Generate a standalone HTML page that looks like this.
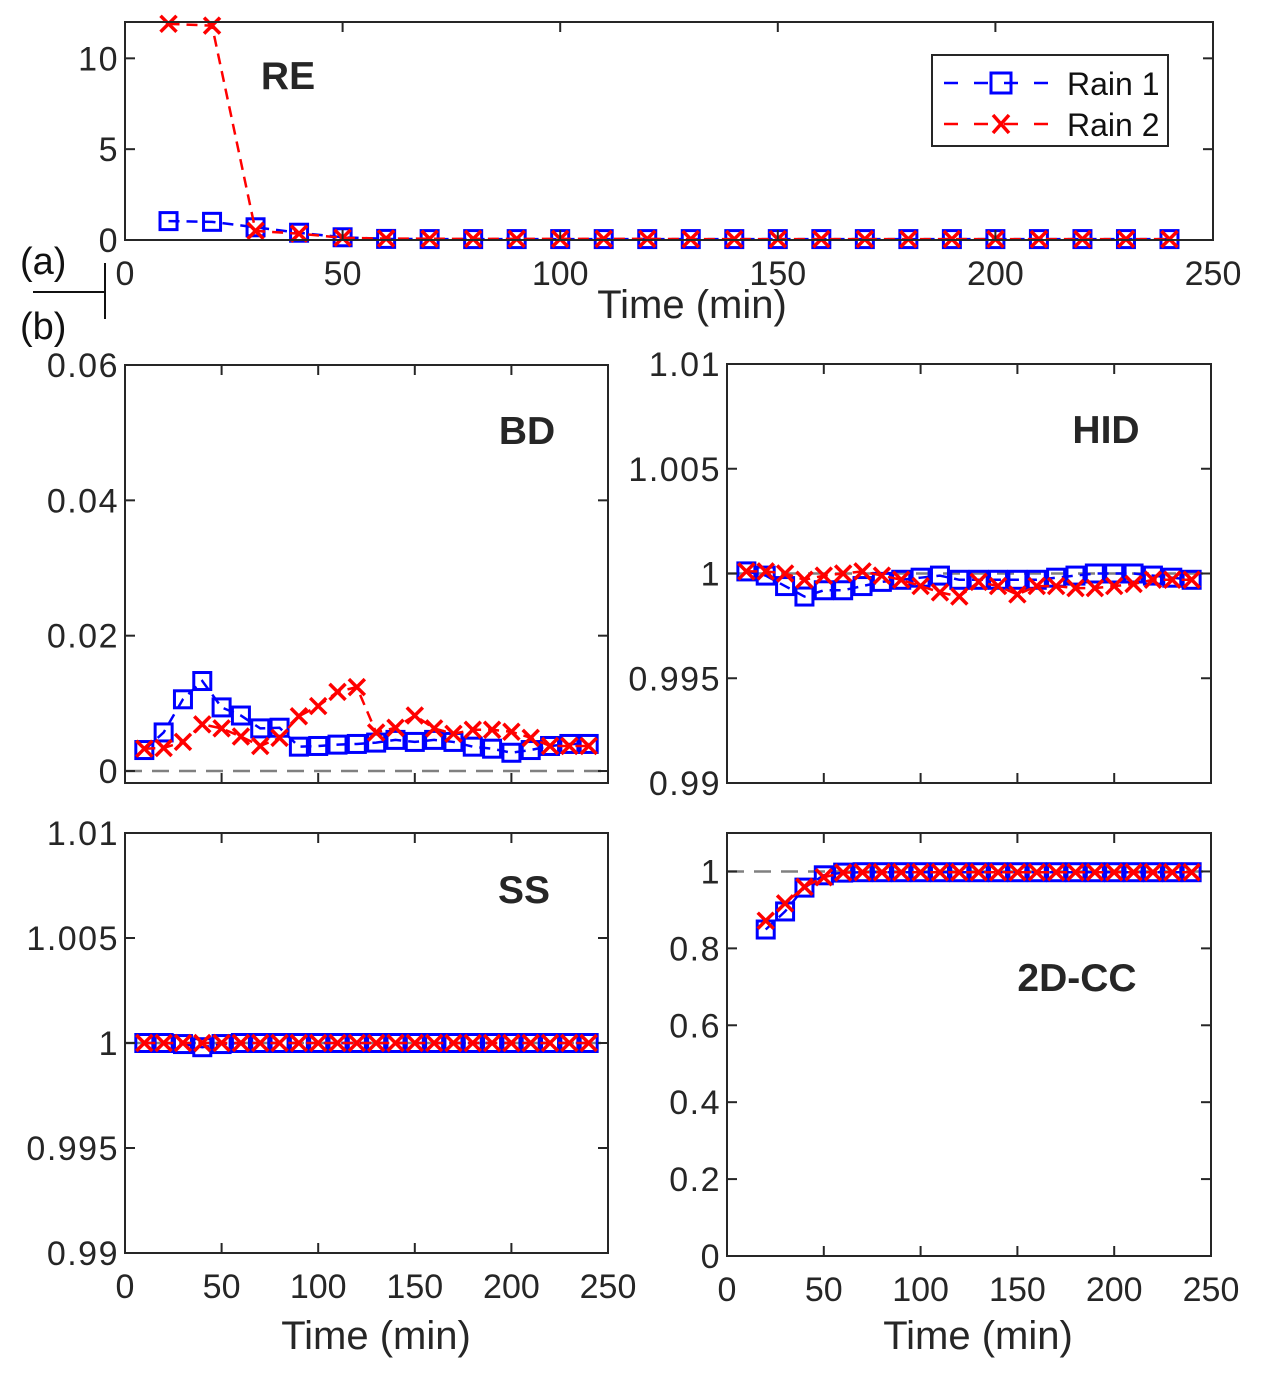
<!DOCTYPE html>
<html><head><meta charset="utf-8"><style>
body{margin:0;background:#fff;}
svg{display:block;font-family:"Liberation Sans",Arial,sans-serif;}
</style></head><body>
<svg id="fig" width="1274" height="1376" viewBox="0 0 1274 1376" xmlns="http://www.w3.org/2000/svg"></svg>
<script>
// ---- data ----
const timesA = [10,20,30,40,50,60,70,80,90,100,110,120,130,140,150,160,170,180,190,200,210,220,230,240];
const timesCC = [20,30,40,50,60,70,80,90,100,110,120,130,140,150,160,170,180,190,200,210,220,230,240];
const reRain1 = [1.04,1.0,0.7,0.4,0.15,0.06,0.05,0.05,0.05,0.05,0.05,0.05,0.05,0.05,0.05,0.05,0.05,0.05,0.05,0.05,0.05,0.05,0.05,0.05];
const reRain2 = [11.9,11.8,0.5,0.35,0.12,0.08,0.07,0.06,0.06,0.06,0.06,0.06,0.05,0.05,0.05,0.05,0.05,0.05,0.05,0.05,0.05,0.05,0.05,0.05];
const bdRain1 = [0.0031,0.0057,0.0106,0.0133,0.0094,0.0082,0.0063,0.0064,0.0036,0.0037,0.0039,0.0040,0.0042,0.0046,0.0043,0.0046,0.0043,0.0036,0.0033,0.0027,0.0031,0.0037,0.0040,0.0040];
const bdRain2 = [0.0033,0.0034,0.0043,0.0069,0.0063,0.0051,0.0037,0.0049,0.0081,0.0096,0.0117,0.0124,0.0057,0.0064,0.0082,0.0063,0.0055,0.0061,0.0061,0.0058,0.0049,0.0037,0.0037,0.0037];
const hidRain1 = [1.0001,0.9999,0.9994,0.9989,0.9992,0.9992,0.9994,0.9996,0.9997,0.9998,0.9999,0.9997,0.9997,0.9997,0.9997,0.9997,0.9998,0.9999,1.0,1.0,1.0,0.9999,0.9998,0.9997];
const hidRain2 = [1.0001,1.0001,1.0,0.9997,0.9999,1.0,1.0001,0.9999,0.9997,0.9994,0.9991,0.9989,0.9996,0.9994,0.999,0.9994,0.9994,0.9993,0.9993,0.9994,0.9995,0.9997,0.9997,0.9997];
const ssRain1 = [1.0,1.0,0.99995,0.9998,0.99995,1.0,1.0,1.0,1.0,1.0,1.0,1.0,1.0,1.0,1.0,1.0,1.0,1.0,1.0,1.0,1.0,1.0,1.0,1.0];
const ssRain2 = [1.0,1.0,1.0,1.0,1.0,1.0,1.0,1.0,1.0,1.0,1.0,1.0,1.0,1.0,1.0,1.0,1.0,1.0,1.0,1.0,1.0,1.0,1.0,1.0];
const ccRain1 = [0.849,0.896,0.958,0.99,0.997,0.998,0.998,0.998,0.998,0.998,0.998,0.998,0.998,0.998,0.998,0.998,0.998,0.998,0.998,0.998,0.998,0.998,0.998];
const ccRain2 = [0.872,0.917,0.96,0.985,0.997,0.998,0.998,0.998,0.998,0.998,0.998,0.998,0.998,0.998,0.998,0.998,0.998,0.998,0.998,0.998,0.998,0.998,0.998];
const xTicks = [0,50,100,150,200,250];
const reTicks = [0,5,10];
const bdTicks = [0,0.02,0.04,0.06];
const hidTicks = [0.99,0.995,1,1.005,1.01];
const ccTicks = [0,0.2,0.4,0.6,0.8,1];

const NS="http://www.w3.org/2000/svg";
const svg=document.getElementById('fig');
function el(tag,attrs,parent){const e=document.createElementNS(NS,tag);for(const k in attrs)e.setAttribute(k,attrs[k]);(parent||svg).appendChild(e);return e;}

function panel(o){
  const g=el('g',{});
  
  
  const sx=v=>o.x0+(v-0)/(250)*(o.x1-o.x0);
  const sy=v=>o.yb-(v-o.ymin)/(o.ymax-o.ymin)*(o.yb-o.yt);
  if(o.ref!==undefined){
    const r=el('line',{x1:o.x0,x2:o.x1,y1:sy(o.ref),y2:sy(o.ref),stroke:'#808080','stroke-width':2.5,'stroke-dasharray':'17,10'},g);
    
    
  }
  const draw=(xs,ys,color,marker,nm)=>{
    const sg=el('g',{},g);
    
    
    const pts=xs.map((t,i)=>sx(t)+','+sy(ys[i])).join(' ');
    el('polyline',{points:pts,fill:'none',stroke:color,'stroke-width':2.5,'stroke-dasharray':'11,7'},sg);
    xs.forEach((t,i)=>{
      const cx=sx(t),cy=sy(ys[i]);
      if(marker==='sq'){const m=el('rect',{x:cx-8.5,y:cy-8.5,width:17,height:17,fill:'none',stroke:color,'stroke-width':3},sg);
        }
      else{const m=el('path',{d:`M${cx-8},${cy-8}L${cx+8},${cy+8}M${cx-8},${cy+8}L${cx+8},${cy-8}`,stroke:color,'stroke-width':3.5,fill:'none'},sg);
        }
    });
  };
  draw(o.xs1,o.s1,'#0000ff','sq','rain1-series');
  draw(o.xs2,o.s2,'#ff0000','x','rain2-series');
  const b=el('rect',{x:o.x0,y:o.yt,width:o.x1-o.x0,height:o.yb-o.yt,fill:'none',stroke:'#262626','stroke-width':2},g);
  
  xTicks.forEach(t=>{
    const x=sx(t);
    el('line',{x1:x,x2:x,y1:o.yb,y2:o.yb-10,stroke:'#262626','stroke-width':2},g);
    el('line',{x1:x,x2:x,y1:o.yt,y2:o.yt+10,stroke:'#262626','stroke-width':2},g);
    if(o.xlabels){const tx=el('text',{x:x,y:o.yb+45,'text-anchor':'middle','font-size':34,fill:'#262626'},g);tx.textContent=t;
      }
  });
  o.yticks.forEach(t=>{
    const y=sy(t);
    el('line',{x1:o.x0,x2:o.x0+10,y1:y,y2:y,stroke:'#262626','stroke-width':2},g);
    el('line',{x1:o.x1,x2:o.x1-10,y1:y,y2:y,stroke:'#262626','stroke-width':2},g);
    const tx=el('text',{x:o.x0-6,y:y+12,'text-anchor':'end','font-size':34,fill:'#262626','letter-spacing':1.5},g);tx.textContent=o.fmt?o.fmt(t):t;
    
  });
  const lb=el('text',{x:o.lx,y:o.ly,'text-anchor':'middle','font-size':39,'font-weight':'bold',fill:'#262626'},g);
  lb.textContent=o.label;
  
  if(o.xtitle){const xt=el('text',{x:o.xtx,y:o.xty,'text-anchor':'middle','font-size':40,fill:'#262626'},g);xt.textContent='Time (min)';
    }
}

panel({name:'re',label:'RE',x0:125,x1:1213,yt:22,yb:240,ymin:0,ymax:12,xs1:timesA,s1:reRain1,xs2:timesA,s2:reRain2,yticks:reTicks,xlabels:true,lx:288,ly:89,xtitle:true,xtx:692,xty:318});
panel({name:'bd',label:'BD',x0:125,x1:608,yt:365,yb:783,ymin:-0.00177,ymax:0.06,ref:0,xs1:timesA,s1:bdRain1,xs2:timesA,s2:bdRain2,yticks:bdTicks,fmt:t=>t===0?'0':t.toFixed(2),lx:527,ly:444});
panel({name:'hid',label:'HID',x0:727,x1:1211,yt:364,yb:783,ymin:0.99,ymax:1.01,ref:1,xs1:timesA,s1:hidRain1,xs2:timesA,s2:hidRain2,yticks:hidTicks,lx:1106,ly:443});
panel({name:'ss',label:'SS',x0:125,x1:608,yt:833,yb:1253,ymin:0.99,ymax:1.01,ref:1,xs1:timesA,s1:ssRain1,xs2:timesA,s2:ssRain2,yticks:hidTicks,xlabels:true,lx:524,ly:903,xtitle:true,xtx:376,xty:1349});
panel({name:'cc',label:'2D-CC',x0:727,x1:1211,yt:833,yb:1256,ymin:0,ymax:1.1,ref:1,xs1:timesCC,s1:ccRain1,xs2:timesCC,s2:ccRain2,yticks:ccTicks,xlabels:true,lx:1077,ly:991,xtitle:true,xtx:978,xty:1349});

const lg=el('g',{});


el('rect',{x:932,y:55,width:236,height:91,fill:'#fff',stroke:'#262626','stroke-width':2},lg);
[['Rain 1','#0000ff','sq',83],['Rain 2','#ff0000','x',124]].forEach(([n,c,m,y])=>{
  const e=el('g',{},lg);
  
  
  el('line',{x1:944,x2:1050,y1:y,y2:y,stroke:c,'stroke-width':2.5,'stroke-dasharray':'14,16'},e);
  if(m==='sq')el('rect',{x:991,y:y-10,width:20,height:20,fill:'none',stroke:c,'stroke-width':3},e);
  else el('path',{d:`M${993},${y-9}L${1009},${y+9}M${993},${y+9}L${1009},${y-9}`,stroke:c,'stroke-width':3.5},e);
  const t=el('text',{x:1067,y:y+12,'font-size':32,fill:'#111'},e);t.textContent=n;
});

const ta=el('text',{x:20,y:274,'font-size':38,fill:'#111'});ta.textContent='(a)';

const tb=el('text',{x:20,y:339,'font-size':38,fill:'#111'});tb.textContent='(b)';

const sep=el('path',{d:'M33,292L105,292M105,263L105,319',stroke:'#111','stroke-width':2,fill:'none'});


</script>
</body></html>
